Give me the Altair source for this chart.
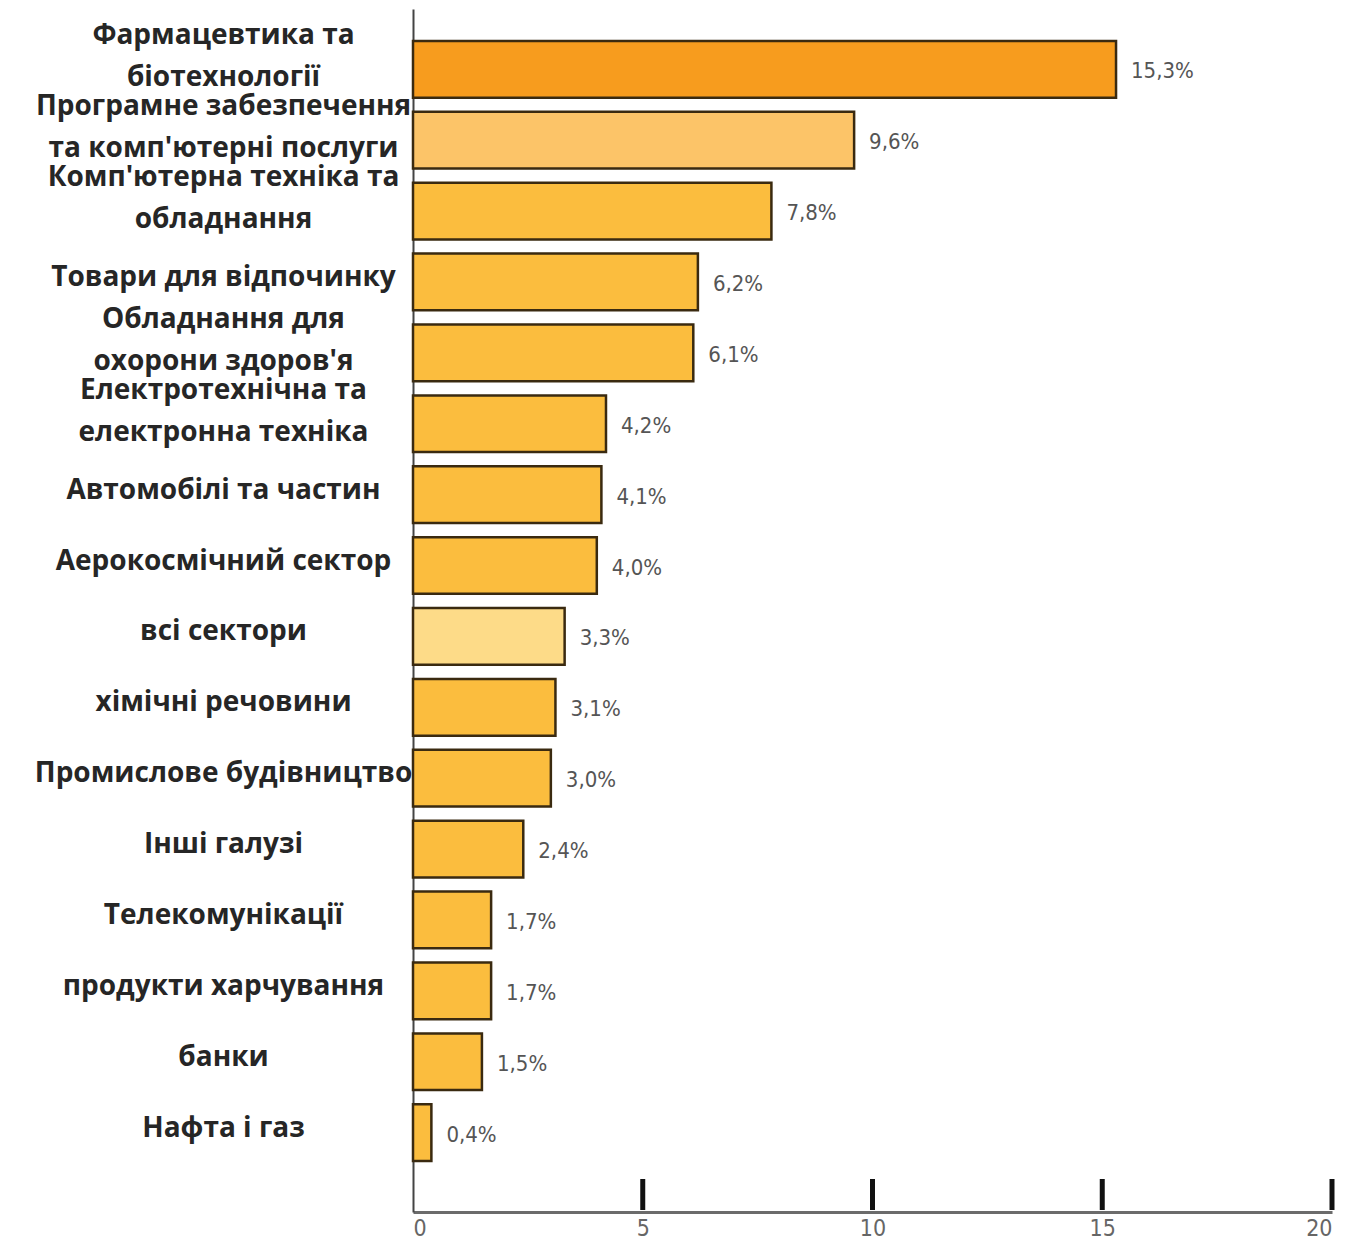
import altair as alt
import pandas as pd

CATEGORIES = [
    "Фармацевтика та|біотехнології",
    "Програмне забезпечення|та комп'ютерні послуги",
    "Комп'ютерна техніка та|обладнання",
    "Товари для відпочинку",
    "Обладнання для|охорони здоров'я",
    "Електротехнічна та|електронна техніка",
    "Автомобілі та частин",
    "Аерокосмічний сектор",
    "всі сектори",
    "хімічні речовини",
    "Промислове будівництво",
    "Інші галузі",
    "Телекомунікації",
    "продукти харчування",
    "банки",
    "Нафта і газ",
]
VALUES = [15.3, 9.6, 7.8, 6.2, 6.1, 4.2, 4.1, 4.0, 3.3, 3.1, 3.0, 2.4, 1.7, 1.7, 1.5, 0.4]
X_TICKS = [0, 5, 10, 15, 20]
MAJOR_TICKS = [5, 10, 15, 20]

df = pd.DataFrame({"category": CATEGORIES, "value": VALUES})
ticks_df = pd.DataFrame({"t": MAJOR_TICKS})

normal = "#FBBD3E"
color_range = [
    "#F79C1E" if c.startswith("Фармацевтика") else
    "#FCC468" if c.startswith("Програмне") else
    "#FDDB88" if c == "всі сектори" else normal
    for c in CATEGORIES
]

W, H = 919, 1203

y_enc = alt.Y(
    "category:N",
    sort=CATEGORIES,
    scale=alt.Scale(paddingInner=0.2, paddingOuter=0.585, align=0.385),
    axis=alt.Axis(
        title=None,
        ticks=False,
        domainColor="#444",
        domainWidth=2,
        labelExpr="split(datum.label, '|')",
        labelAlign="center",
        labelPadding=190,
        labelLimit=430,
        labelFont="Open Sans",
        labelFontWeight="bold",
        labelFontSize=28,
        labelColor="#262626",
        labelLineHeight=42,
        labelOffset={"expr": "indexof(datum.value, '|') >= 0 ? -33 : -4"},
    ),
)

x_scale = alt.Scale(domain=[0, 20], nice=False)

bars = alt.Chart(df).mark_bar(stroke="#3a2a10", strokeWidth=2.5).encode(
    x=alt.X(
        "value:Q",
        scale=x_scale,
        axis=alt.Axis(
            title=None,
            values=X_TICKS,
            grid=False,
            ticks=False,
            domainColor="#6b6b6b",
            domainWidth=3,
            labelPadding=5,
            labelFont="DejaVu Sans Condensed",
            labelFontSize=23,
            labelColor="#666",
        ),
    ),
    y=y_enc,
    color=alt.Color("category:N", scale=alt.Scale(domain=CATEGORIES, range=color_range), legend=None),
)

labels = alt.Chart(df).transform_calculate(
    lbl="replace(format(datum.value, '.1f'), '.', ',') + '%'"
).mark_text(
    align="left", baseline="middle", dx=15, dy=2,
    font="DejaVu Sans Condensed", fontSize=22, color="#555",
).encode(
    x=alt.X("value:Q", scale=x_scale),
    y=alt.Y("category:N", sort=CATEGORIES),
    text="lbl:N",
)

tick_marks = alt.Chart(ticks_df).mark_rule(color="#111", strokeWidth=5).encode(
    x=alt.X("t:Q", scale=x_scale),
    y=alt.value(H - 33),
    y2=alt.value(H - 2),
)

chart = alt.layer(bars, labels, tick_marks).properties(
    width=W,
    height=H,
    autosize=alt.AutoSizeParams(type="none"),
    padding={"left": 405, "top": 1, "right": 8, "bottom": 31},
).configure(background="white").configure_view(stroke=None)

chart.save("out.html", embed_options={"renderer": "svg", "actions": False})
